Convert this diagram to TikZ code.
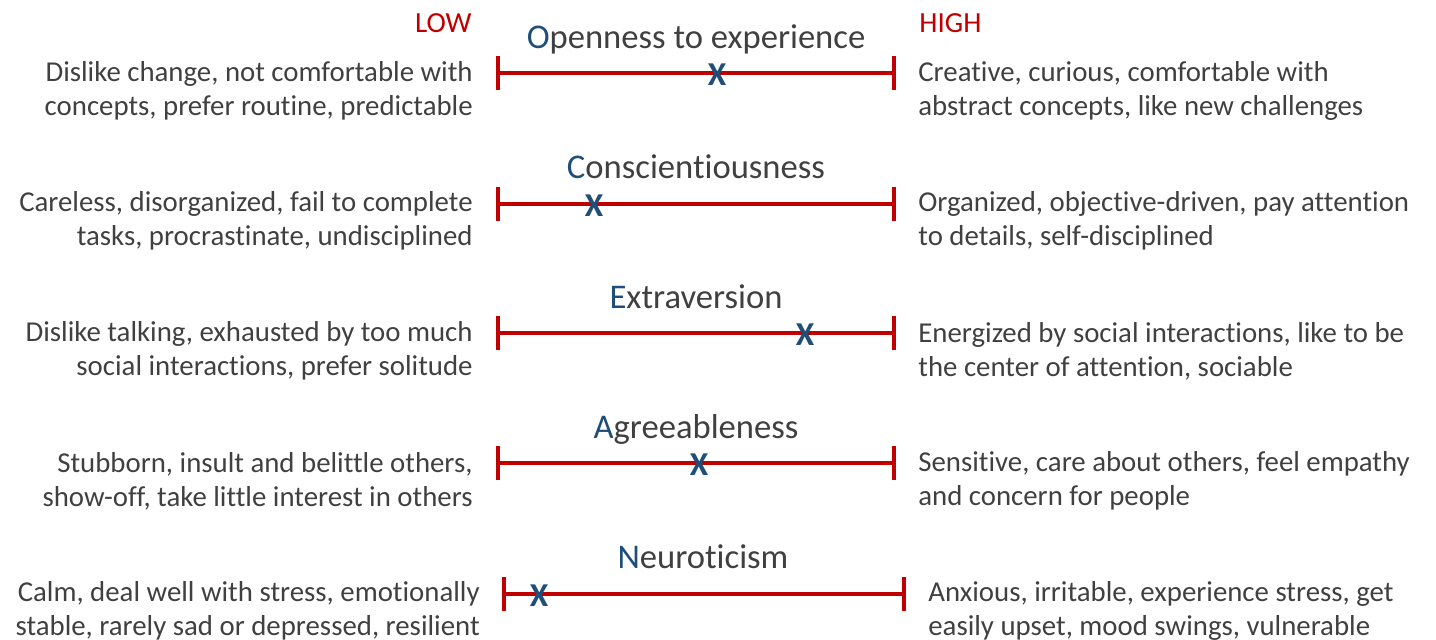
\documentclass[tikz,border=0pt]{standalone}
\usepackage{fontspec}
\setmainfont{Carlito}[Ligatures=NoCommon]
\usetikzlibrary{arrows.meta}

\definecolor{txtgray}{HTML}{404040}
\definecolor{traitblue}{HTML}{1F4E79}
\definecolor{barred}{HTML}{C00000}

\begin{document}
\begin{tikzpicture}[
  x=0.02cm, y=-0.02cm,
  every node/.style={inner sep=0pt, text=txtgray},
  desc/.style={font=\fontsize{16.4}{19.4}\selectfont},
  lowdesc/.style={desc, anchor=east, align=right},
  highdesc/.style={desc, anchor=west, align=left},
  trait/.style={anchor=base, font=\fontsize{19.7}{22}\selectfont},
  endlbl/.style={anchor=base, text=barred, font=\fontsize{16.6}{18}\selectfont},
  bar/.style={draw=barred, line width=2.3pt, {Bar[width=0.68cm]}-{Bar[width=0.68cm]}},
  xmark/.style={text=traitblue, font=\fontsize{19}{20}\selectfont\bfseries}
]
\useasboundingbox (0,0) rectangle (1436,639);

% scale ends
\node[endlbl, anchor=base east] (low) at (472,32) {LOW};
\node[endlbl, anchor=base west] (high) at (919,32) {HIGH};

% Openness
\node[trait] (t1) at (696,48) {\textcolor{traitblue}{O}penness to experience};
\coordinate (a1) at (496,73);
\coordinate (b1) at (896,73);
\draw[bar] (a1) -- (b1);
\node[xmark] (m1) at (717,75) {X};
\node[lowdesc] (l1) at (473,91) {Dislike change, not comfortable with\\concepts, prefer routine, predictable};
\node[highdesc] (r1) at (918,91) {Creative, curious, comfortable with\\abstract concepts, like new challenges};

% Conscientiousness
\node[trait] (t2) at (696,178) {\textcolor{traitblue}{C}onscientiousness};
\coordinate (a2) at (496,204);
\coordinate (b2) at (896,204);
\draw[bar] (a2) -- (b2);
\node[xmark] (m2) at (594,206) {X};
\node[lowdesc] (l2) at (473,221) {Careless, disorganized, fail to complete\\tasks, procrastinate, undisciplined};
\node[highdesc] (r2) at (918,221) {Organized, objective-driven, pay attention\\to details, self-disciplined};

% Extraversion
\node[trait] (t3) at (696,308) {\textcolor{traitblue}{E}xtraversion};
\coordinate (a3) at (496,333);
\coordinate (b3) at (896,333);
\draw[bar] (a3) -- (b3);
\node[xmark] (m3) at (805,335) {X};
\node[lowdesc] (l3) at (473,351) {Dislike talking, exhausted by too much\\social interactions, prefer solitude};
\node[highdesc] (r3) at (918,351) {Energized by social interactions, like to be\\the center of attention, sociable};

% Agreeableness
\node[trait] (t4) at (696,438) {\textcolor{traitblue}{A}greeableness};
\coordinate (a4) at (496,463);
\coordinate (b4) at (896,463);
\draw[bar] (a4) -- (b4);
\node[xmark] (m4) at (699,465) {X};
\node[lowdesc] (l4) at (473,481) {Stubborn, insult and belittle others,\\show-off, take little interest in others};
\node[highdesc] (r4) at (918,481) {Sensitive, care about others, feel empathy\\and concern for people};

% Neuroticism
\node[trait] (t5) at (703,568) {\textcolor{traitblue}{N}euroticism};
\coordinate (a5) at (502,594);
\coordinate (b5) at (906,594);
\draw[bar] (a5) -- (b5);
\node[xmark] (m5) at (539,596) {X};
\node[lowdesc] (l5) at (480,611) {Calm, deal well with stress, emotionally\\stable, rarely sad or depressed, resilient};
\node[highdesc] (r5) at (928,611) {Anxious, irritable, experience stress, get\\easily upset, mood swings, vulnerable};
\end{tikzpicture}
\end{document}
